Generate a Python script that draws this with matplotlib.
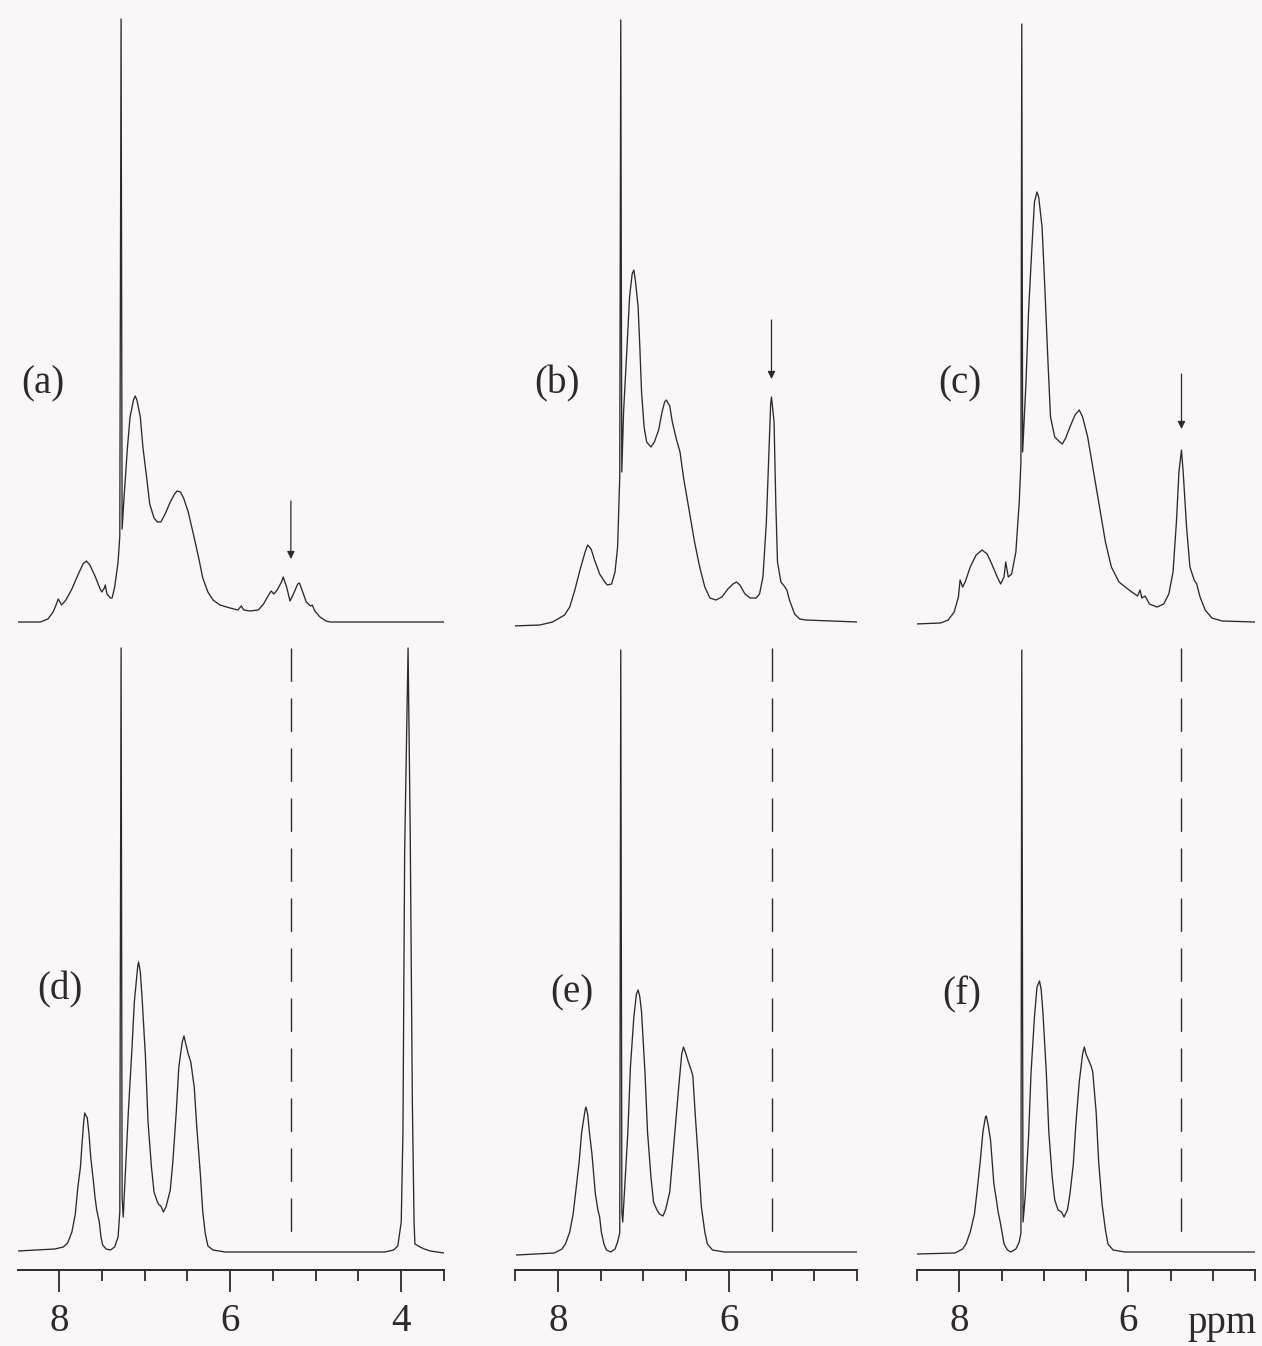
import matplotlib
matplotlib.use("Agg")
import matplotlib.pyplot as plt

W, H = 1262, 1346
BG = "#fbf6f8"
INK = "#2b2b2b"
plt.rcParams["font.family"] = ["Liberation Serif", "DejaVu Serif"]

# traces: shift (ppm) and height above baseline (a.u.)
a_ppm = [8.49, 8.22, 8.13, 8.07, 8.03, 8.01, 7.99, 7.97, 7.92, 7.85, 7.78, 7.72, 7.68,
         7.64, 7.58, 7.52, 7.50, 7.47, 7.46, 7.44, 7.40, 7.38, 7.35, 7.31, 7.29, 7.275,
         7.263, 7.24, 7.20, 7.17, 7.13, 7.11, 7.09, 7.05, 7.02, 6.97, 6.94, 6.89, 6.85,
         6.81, 6.76, 6.70, 6.65, 6.62, 6.58, 6.54, 6.49, 6.43, 6.37, 6.32, 6.26, 6.20,
         6.12, 6.00, 5.91, 5.87, 5.84, 5.77, 5.67, 5.61, 5.55, 5.52, 5.49, 5.45, 5.40,
         5.38, 5.34, 5.30, 5.26, 5.21, 5.19, 5.16, 5.11, 5.06, 5.04, 5.01, 4.95, 4.88,
         4.83, 3.50]
a_int = [0, 0, 3, 10, 18, 23, 20, 17, 22, 33, 47, 58, 61,
         57, 46, 33, 30, 34, 37, 28, 24, 24, 35, 60, 86, 603,
         93, 125, 175, 205, 222, 226, 222, 205, 175, 140, 118, 104, 100,
         100, 108, 120, 128, 131, 130, 123, 110, 88, 65, 44, 30, 22,
         17, 14, 12, 16, 12, 11, 12, 18, 27, 31, 28, 32, 40,
         45, 35, 21, 28, 38, 39, 32, 20, 16, 17, 11, 5, 1,
         0, 0]

b_ppm = [8.53, 8.21, 8.06, 7.98, 7.92, 7.86, 7.80, 7.74, 7.68, 7.65, 7.61, 7.57, 7.51,
         7.45, 7.42, 7.37, 7.33, 7.30, 7.275, 7.263, 7.251, 7.23, 7.19, 7.16, 7.13, 7.11,
         7.09, 7.06, 7.04, 7.02, 6.99, 6.96, 6.91, 6.87, 6.82, 6.78, 6.75, 6.73, 6.69,
         6.66, 6.61, 6.57, 6.53, 6.46, 6.40, 6.34, 6.28, 6.22, 6.15, 6.08, 6.01, 5.95,
         5.91, 5.87, 5.81, 5.75, 5.68, 5.64, 5.60, 5.56, 5.53, 5.51, 5.50, 5.47, 5.45,
         5.43, 5.39, 5.36, 5.32, 5.29, 5.23, 5.17, 5.10, 4.50]
b_int = [-4, -3, 0, 4, 7, 15, 32, 52, 70, 77, 73, 62, 48,
         40, 37, 38, 50, 75, 145, 602, 150, 210, 275, 325, 348, 352,
         340, 315, 275, 230, 195, 180, 175, 180, 192, 210, 220, 222, 216,
         200, 182, 170, 145, 110, 80, 55, 35, 24, 22, 25, 33, 38,
         40, 37, 28, 24, 24, 28, 45, 100, 170, 218, 225, 200, 120,
         60, 40, 37, 32, 22, 8, 3, 2, 0]

c_ppm = [8.52, 8.22, 8.13, 8.06, 8.01, 7.99, 7.96, 7.93, 7.87, 7.80, 7.73, 7.67, 7.61,
         7.55, 7.51, 7.47, 7.45, 7.42, 7.38, 7.33, 7.29, 7.27, 7.26, 7.25, 7.21, 7.18,
         7.14, 7.11, 7.08, 7.06, 7.02, 6.99, 6.95, 6.92, 6.87, 6.81, 6.78, 6.74, 6.69,
         6.63, 6.58, 6.54, 6.48, 6.41, 6.34, 6.27, 6.20, 6.11, 5.99, 5.89, 5.86, 5.84,
         5.80, 5.75, 5.66, 5.58, 5.52, 5.47, 5.43, 5.40, 5.37, 5.35, 5.31, 5.27, 5.22,
         5.19, 5.15, 5.09, 5.01, 4.89, 4.50]
c_int = [-2, -1, 2, 10, 25, 42, 35, 40, 55, 67, 72, 68, 57,
         45, 38, 45, 60, 45, 48, 70, 120, 160, 598, 170, 240, 310,
         375, 420, 430, 425, 395, 340, 260, 205, 185, 180, 178, 184, 195,
         207, 212, 205, 185, 150, 115, 80, 55, 40, 32, 26, 32, 24,
         26, 18, 15, 18, 28, 50, 100, 150, 172, 150, 95, 55, 42,
         38, 25, 12, 4, 1, 0]

d_ppm = [8.48, 8.05, 7.95, 7.90, 7.85, 7.81, 7.78, 7.75, 7.73, 7.71, 7.70, 7.67, 7.65,
         7.63, 7.60, 7.58, 7.56, 7.53, 7.51, 7.49, 7.45, 7.40, 7.35, 7.31, 7.29, 7.275,
         7.263, 7.25, 7.23, 7.19, 7.15, 7.12, 7.08, 7.07, 7.05, 7.03, 6.99, 6.96, 6.92,
         6.89, 6.85, 6.83, 6.81, 6.78, 6.75, 6.70, 6.67, 6.63, 6.60, 6.56, 6.54, 6.51,
         6.49, 6.46, 6.42, 6.39, 6.35, 6.32, 6.29, 6.26, 6.20, 6.06, 4.19, 4.09, 4.04,
         4.00, 3.98, 3.96, 3.92, 3.895, 3.87, 3.85, 3.84, 3.78, 3.73, 3.66, 3.50]
d_int = [1, 3, 5, 9, 20, 38, 65, 85, 110, 132, 139, 134, 118,
         95, 72, 55, 42, 30, 15, 7, 3, 2, 5, 15, 40, 604,
         55, 35, 70, 140, 200, 250, 286, 290, 280, 255, 195, 130, 85,
         60, 50, 47, 46, 40, 45, 62, 90, 140, 185, 210, 216, 205,
         198, 190, 165, 125, 80, 40, 18, 6, 2, 0, 0, 2, 6,
         30, 120, 400, 604, 420, 150, 30, 8, 5, 3, 1, -1]

e_ppm = [8.48, 8.04, 7.95, 7.91, 7.86, 7.82, 7.79, 7.75, 7.72, 7.68, 7.67, 7.65, 7.63,
         7.60, 7.58, 7.56, 7.53, 7.51, 7.49, 7.46, 7.43, 7.38, 7.33, 7.30, 7.275, 7.263,
         7.25, 7.24, 7.22, 7.18, 7.15, 7.11, 7.08, 7.06, 7.04, 7.02, 6.98, 6.95, 6.91,
         6.88, 6.84, 6.81, 6.77, 6.74, 6.69, 6.66, 6.62, 6.58, 6.55, 6.53, 6.50, 6.48,
         6.44, 6.42, 6.39, 6.35, 6.32, 6.28, 6.25, 6.19, 6.05, 4.50]
e_int = [-3, -1, 3, 8, 20, 38, 60, 90, 120, 142, 145, 138, 120,
         98, 78, 58, 42, 35, 20, 8, 2, 0, 3, 10, 19, 602,
         40, 30, 60, 120, 185, 235, 258, 262, 255, 240, 180, 120, 75,
         50, 42, 38, 36, 42, 60, 90, 130, 170, 198, 205, 198, 192,
         182, 176, 135, 85, 45, 20, 8, 2, 0, 0]

f_ppm = [8.50, 8.05, 7.96, 7.92, 7.87, 7.82, 7.79, 7.75, 7.72, 7.69, 7.68, 7.66, 7.63,
         7.61, 7.59, 7.56, 7.54, 7.52, 7.49, 7.47, 7.43, 7.39, 7.33, 7.29, 7.27, 7.26,
         7.245, 7.22, 7.18, 7.15, 7.11, 7.08, 7.05, 7.03, 7.01, 6.97, 6.94, 6.90, 6.87,
         6.83, 6.79, 6.76, 6.72, 6.69, 6.65, 6.62, 6.58, 6.54, 6.52, 6.50, 6.47, 6.44,
         6.42, 6.38, 6.35, 6.31, 6.27, 6.24, 6.18, 6.04, 4.50]
f_int = [-2, -1, 3, 8, 20, 38, 60, 92, 120, 135, 136, 128, 112,
         90, 68, 52, 40, 32, 18, 8, 2, 0, 3, 10, 19, 602,
         30, 55, 115, 180, 235, 265, 271, 262, 240, 180, 120, 75, 52,
         42, 40, 35, 42, 58, 88, 128, 170, 198, 205, 198, 192, 186,
         180, 140, 90, 48, 22, 8, 2, 0, 0]

top_traces = [(a_ppm, a_int), (b_ppm, b_int), (c_ppm, c_int)]
bottom_traces = [(d_ppm, d_int), (e_ppm, e_int), (f_ppm, f_int)]
top_labels = ["(a)", "(b)", "(c)"]
bottom_labels = ["(d)", "(e)", "(f)"]

# marked signal (arrow in top row, dashed guide in bottom row)
mark_ppm = [5.29, 5.50, 5.37]
arrow_tail = [121, 302, 248]
arrow_tip = [63, 243, 193]
guide_top = 604
guide_bottom = 19

tick_labels = [[8, 6, 4], [8, 6], [8, 6]]

# layout in pixels
col_px = [(18, 444), (515, 857), (917, 1255)]
col_xlim = [(8.48, 3.5), (8.5, 4.5), (8.5, 4.5)]
top_label_xy = [(43, 384), (557, 384), (960, 384)]
bottom_label_xy = [(60, 990), (572, 993), (962, 995)]

fig = plt.figure(figsize=(W / 100, H / 100), dpi=100, facecolor=BG)


def add_axes(x0, x1, y0, y1):
    ax = fig.add_axes([x0 / W, 1 - y1 / H, (x1 - x0) / W, (y1 - y0) / H])
    ax.set_facecolor("none")
    for s in ax.spines.values():
        s.set_visible(False)
    ax.set_yticks([])
    return ax


for i in range(3):
    x0, x1 = col_px[i]

    # top row
    ax = add_axes(x0, x1, 0, 640)
    ax.set_xlim(*col_xlim[i])
    ax.set_ylim(-18, 622)
    ax.set_xticks([])
    ax.plot(*top_traces[i], color=INK, lw=0.95, solid_joinstyle="round")
    ax.annotate("", xy=(mark_ppm[i], arrow_tip[i]), xytext=(mark_ppm[i], arrow_tail[i]),
                arrowprops=dict(arrowstyle="-|>", color=INK, lw=0.9,
                                mutation_scale=11, shrinkA=0, shrinkB=0))
    lx, ly = top_label_xy[i]
    fig.text(lx / W, 1 - ly / H, top_labels[i], fontsize=28, color=INK,
             ha="center", va="center")

    # bottom row with ppm axis
    ax = add_axes(x0, x1, 640, 1270)
    ax.set_xlim(*col_xlim[i])
    ax.set_ylim(-18, 612)
    ax.plot(*bottom_traces[i], color=INK, lw=0.95, solid_joinstyle="round")
    ax.plot([mark_ppm[i], mark_ppm[i]], [guide_top, guide_bottom], color=INK, lw=1.0,
            dashes=(24, 12))
    ax.spines["bottom"].set_visible(True)
    ax.spines["bottom"].set_color(INK)
    ax.spines["bottom"].set_linewidth(1.4)
    lo, hi = col_xlim[i][1], col_xlim[i][0]
    minor = [k * 0.5 for k in range(int(lo * 2 + 0.999), int(hi * 2) + 1)]
    ax.set_xticks(tick_labels[i])
    ax.set_xticklabels([str(t) for t in tick_labels[i]])
    ax.set_xticks(minor, minor=True)
    ax.tick_params(axis="x", which="major", length=16, width=1.3, color=INK,
                   labelsize=28, labelcolor=INK, pad=8)
    ax.tick_params(axis="x", which="minor", length=8, width=1.3, color=INK)
    lx, ly = bottom_label_xy[i]
    fig.text(lx / W, 1 - ly / H, bottom_labels[i], fontsize=28, color=INK,
             ha="center", va="center")

fig.text(1222 / W, 1 - 1323 / H, "ppm", fontsize=28, color=INK, ha="center", va="center")

fig.savefig("out.png", dpi=100, facecolor=BG)
